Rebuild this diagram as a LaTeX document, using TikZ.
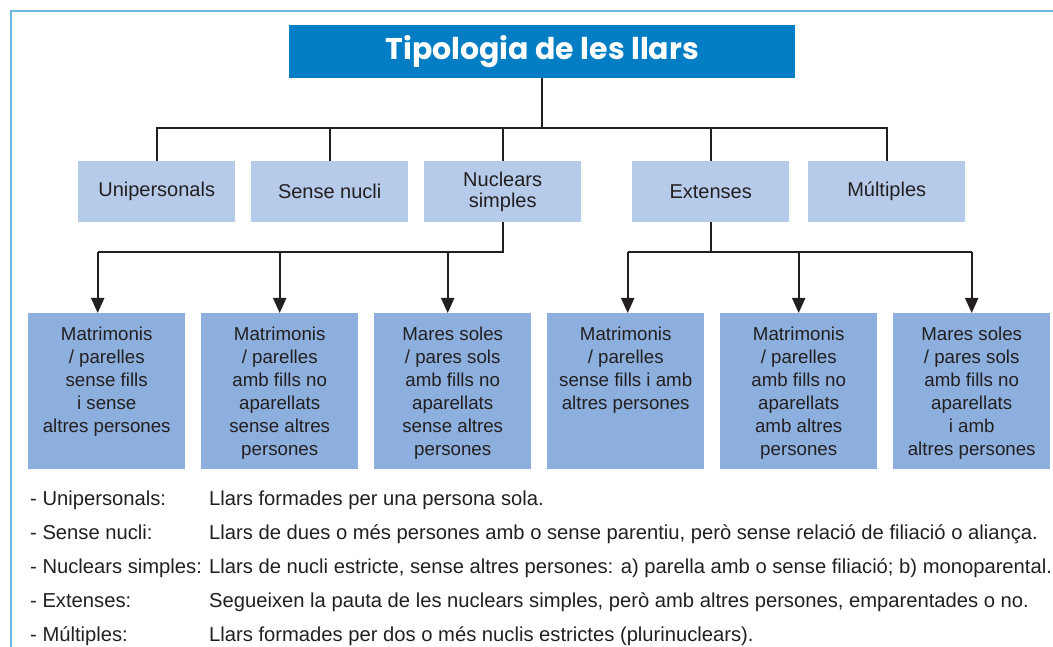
\documentclass[tikz,border=0pt]{standalone}
\usepackage{fontspec}
\setmainfont{Liberation Sans}
\newfontfamily\titlefont{Poppins}
\usetikzlibrary{arrows.meta}
\definecolor{titleblue}{HTML}{037DC4}
\definecolor{lightbox}{HTML}{B6CBEA}
\definecolor{midbox}{HTML}{8CAFDD}
\definecolor{framecol}{HTML}{6BB8E0}
\definecolor{ink}{HTML}{231F20}
\begin{document}
\begin{tikzpicture}[x=1pt,y=-1pt,
  titlebox/.style={fill=titleblue, text=white, inner sep=0, minimum width=506, minimum height=53,
    font=\titlefont\bfseries\fontsize{30}{34}\selectfont},
  lvone/.style={fill=lightbox, text=ink, inner sep=0, minimum width=157, minimum height=61,
    align=center, font=\fontsize{20}{21}\selectfont},
  lvtwo/.style={fill=midbox, text=ink, inner sep=0, anchor=north west},
  ln/.style={draw=ink, line width=2pt},
  arr/.style={draw=ink, line width=2pt, -{Triangle[length=15pt,width=13pt]}},
  leg/.style={text=ink, inner sep=0, anchor=base west, font=\fontsize{20.2}{22}\selectfont},
  framel/.style={draw=framecol, line width=1.6pt}]
\useasboundingbox (0,0) rectangle (1053,647);
\newcommand{\boxtext}[1]{\parbox[t][156pt][t]{157pt}{\centering\fontsize{18.7}{23}\selectfont\rule{0pt}{27pt}#1}}
% frame
\draw[framel] (11,660) -- (11,11) -- (1060,11);
% title
\node[titlebox, anchor=north west] (T) at (289,25) {Tipologia de les llars};
% level 1
\node[lvone, anchor=north west] (u) at (78,161) {Unipersonals};
\node[lvone, anchor=north west] (s) at (251,161) {Sense nucli};
\node[lvone, anchor=north west] (n) at (424,161) {Nuclears\\simples};
\node[lvone, anchor=north west] (e) at (632,161) {Extenses};
\node[lvone, anchor=north west] (m) at (808,161) {Múltiples};
% level 2
\node[lvtwo] (b1) at (28,313) {\boxtext{Matrimonis\\/ parelles\\sense fills\\i sense\\altres persones}};
\node[lvtwo] (b2) at (201,313) {\boxtext{Matrimonis\\/ parelles\\amb fills no\\aparellats\\sense altres\\persones}};
\node[lvtwo] (b3) at (374,313) {\boxtext{Mares soles\\/ pares sols\\amb fills no\\aparellats\\sense altres\\persones}};
\node[lvtwo] (b4) at (547,313) {\boxtext{Matrimonis\\/ parelles\\sense fills i amb\\altres persones}};
\node[lvtwo] (b5) at (720,313) {\boxtext{Matrimonis\\/ parelles\\amb fills no\\aparellats\\amb altres\\persones}};
\node[lvtwo] (b6) at (893,313) {\boxtext{Mares soles\\/ pares sols\\amb fills no\\aparellats\\i amb\\altres persones}};
% buses
\coordinate (busA) at (540,128);
\coordinate (busB) at (540,252);
\draw[ln] (T.south) -- (T.south |- busA);
\draw[ln] (u.north) -- (u.north |- busA) -- (m.north |- busA) -- (m.north);
\draw[ln] (s.north |- busA) -- (s.north);
\draw[ln] (n.north |- busA) -- (n.north);
\draw[ln] (e.north |- busA) -- (e.north);
% nuclears branch
\coordinate (a1) at ([xshift=-9pt]b1.north);
\coordinate (a3) at ([xshift=-5pt]b3.north);
\draw[ln] (n.south) -- (n.south |- busB) -- (a1 |- busB);
\draw[arr] (a1 |- busB) -- (a1);
\draw[arr] (b2.north |- busB) -- (b2.north);
\draw[arr] (a3 |- busB) -- (a3);
% extenses branch
\coordinate (a4) at ([xshift=2pt]b4.north);
\draw[ln] (e.south) -- (e.south |- busB);
\draw[ln] (a4 |- busB) -- (b6.north |- busB);
\draw[arr] (a4 |- busB) -- (a4);
\draw[arr] (b5.north |- busB) -- (b5.north);
\draw[arr] (b6.north |- busB) -- (b6.north);
% legend
\node[leg] (k1) at (30,505) {- Unipersonals:};
\node[leg] (d1) at (209,505) {Llars formades per una persona sola.};
\node[leg] (k2) at (30,539) {- Sense nucli:};
\node[leg] (d2) at (209,539) {Llars de dues o més persones amb o sense parentiu, però sense relació de filiació o aliança.};
\node[leg] (k3) at (30,573) {- Nuclears simples:};
\node[leg] (d3) at (209,573) {Llars de nucli estricte, sense altres persones: a) parella amb o sense filiació; b) monoparental.};
\node[leg] (k4) at (30,607) {- Extenses:};
\node[leg] (d4) at (209,607) {Segueixen la pauta de les nuclears simples, però amb altres persones, emparentades o no.};
\node[leg] (k5) at (30,641) {- Múltiples:};
\node[leg] (d5) at (209,641) {Llars formades per dos o més nuclis estrictes (plurinuclears).};
\end{tikzpicture}
\end{document}
